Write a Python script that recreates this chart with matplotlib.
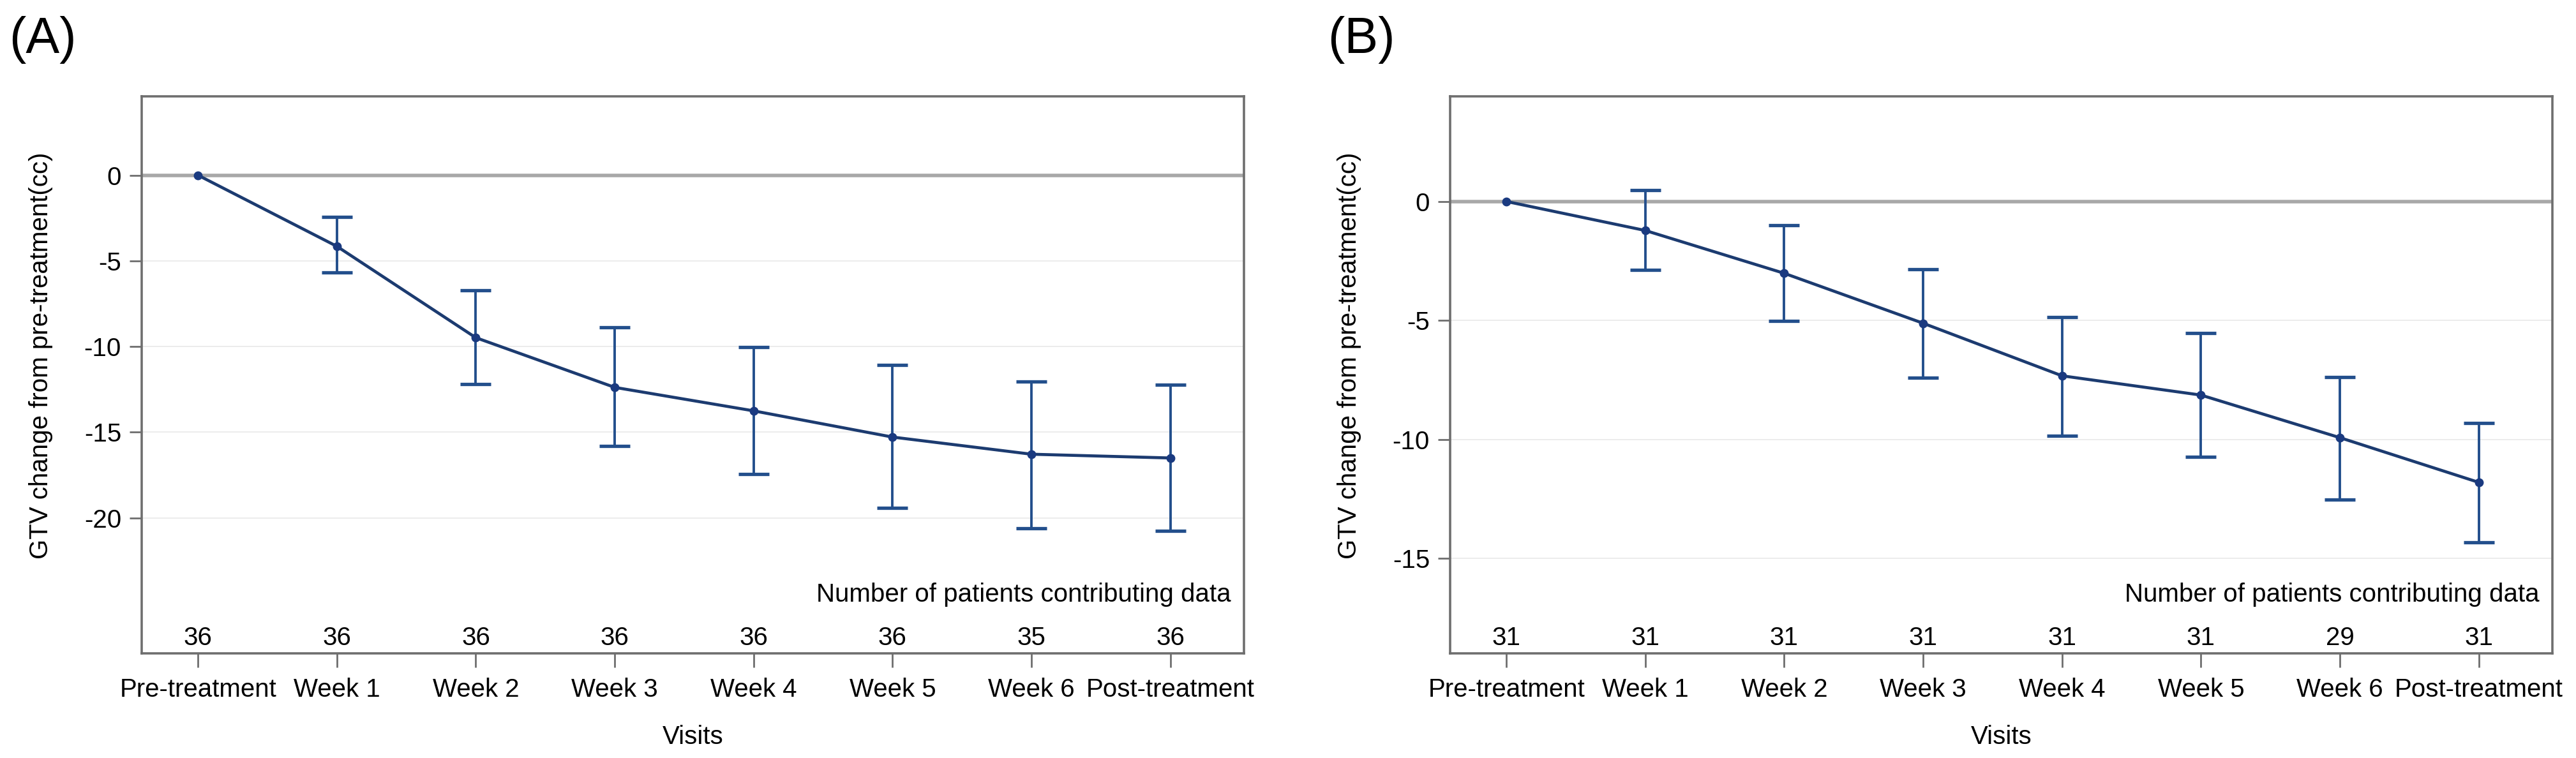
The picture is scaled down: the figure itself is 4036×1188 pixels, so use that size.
import matplotlib
matplotlib.use('Agg')
import numpy as np
from matplotlib import pyplot as plt
from matplotlib.transforms import blended_transform_factory

plt.rcParams['font.family'] = ['Liberation Sans', 'DejaVu Sans']

visits = ['Pre-treatment', 'Week 1', 'Week 2', 'Week 3', 'Week 4', 'Week 5', 'Week 6', 'Post-treatment']

# panel A
mean_a = [0, -4.15, -9.48, -12.38, -13.75, -15.28, -16.28, -16.5]
upper_a = [0, -2.44, -6.73, -8.88, -10.04, -11.08, -12.04, -12.23]
lower_a = [0, -5.68, -12.2, -15.8, -17.43, -19.4, -20.6, -20.74]
n_a = [36, 36, 36, 36, 36, 36, 35, 36]
yticks_a = [0, -5, -10, -15, -20]

# panel B
mean_b = [0, -1.22, -3.02, -5.12, -7.33, -8.14, -9.93, -11.81]
upper_b = [0, 0.47, -0.99, -2.84, -4.85, -5.54, -7.39, -9.32]
lower_b = [0, -2.88, -5.03, -7.40, -9.84, -10.74, -12.53, -14.32]
n_b = [31, 31, 31, 31, 31, 31, 29, 31]
yticks_b = [0, -5, -10, -15]

W, H = 4036, 1188
fig = plt.figure(figsize=(W / 100, H / 100), dpi=100)

FS = 29
line_col = '#1c3b70'
err_col = '#234f8c'
spine_col = '#6e6e6e'


def panel(left_px, mean, upper, lower, n, yticks, ylim, letter, letter_x):
    ax = fig.add_axes([left_px / W, (H - 1024) / H, 1727 / W, 873 / H])
    x = np.arange(len(visits))
    mean = np.array(mean)
    upper = np.array(upper)
    lower = np.array(lower)

    for t in yticks[1:]:
        ax.axhline(t, color='#ececec', lw=1.4, zorder=0)
    ax.axhline(0, color='#a8a8a8', lw=4, zorder=1)

    # no bar at baseline (upper == lower)
    m = upper != lower
    ax.errorbar(x[m], mean[m], yerr=[mean[m] - lower[m], upper[m] - mean[m]],
                fmt='none', ecolor=err_col, elinewidth=2.8, capsize=17, capthick=3.8, zorder=2)
    ax.plot(x, mean, color=line_col, lw=3.4, marker='o', ms=9, mfc='#1a3a80', mec='#1a3a80', zorder=3)

    ax.set_xlim(-0.405, 7.53)
    ax.set_ylim(*ylim)
    ax.set_xticks(x)
    ax.set_xticklabels(visits, fontsize=FS)
    ax.set_yticks(yticks)
    ax.set_yticklabels([str(t) for t in yticks], fontsize=FS)
    ax.tick_params(axis='x', length=16, width=2, color=spine_col, pad=11)
    ax.tick_params(axis='y', length=14, width=2, color=spine_col, pad=9)
    for s in ax.spines.values():
        s.set_color(spine_col)
        s.set_linewidth(2.6)

    ax.set_xlabel('Visits', fontsize=FS)
    ax.xaxis.label.set_va('center')
    ax.xaxis.set_label_coords(0.5, -0.150)
    ax.set_ylabel('GTV change from pre-treatment(cc)', fontsize=FS)
    ax.yaxis.label.set_va('center')
    ax.yaxis.set_label_coords(-0.0915, 0.535)

    tr = blended_transform_factory(ax.transData, ax.transAxes)
    for xi, ni in zip(x, n):
        ax.text(xi, 0.0275, str(ni), transform=tr, ha='center', va='center', fontsize=FS)
    ax.text(0.988, 0.105, 'Number of patients contributing data', transform=ax.transAxes,
            ha='right', va='center', fontsize=FS)

    fig.text(letter_x / W, 1 - 63 / H, letter, fontsize=57, ha='left', va='center')
    return ax


panel(222, mean_a, upper_a, lower_a, n_a, yticks_a, (-27.9, 4.6), '(A)', 14)
panel(2272, mean_b, upper_b, lower_b, n_b, yticks_b, (-19.0, 4.42), '(B)', 2080)

fig.savefig('out.png', dpi=100, facecolor='white')
